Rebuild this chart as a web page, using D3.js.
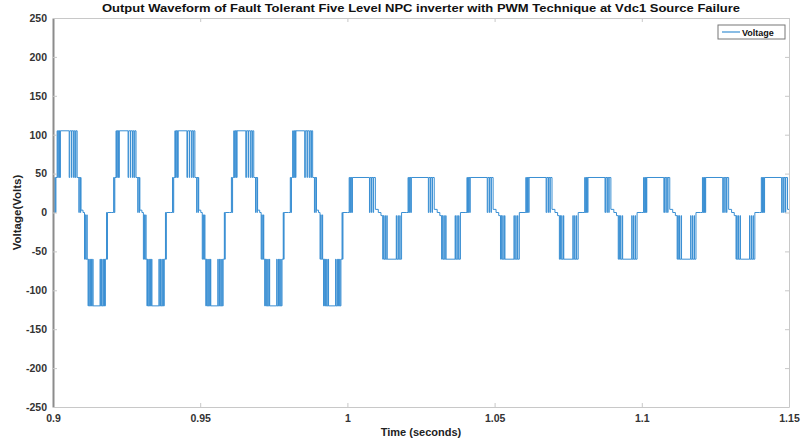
<!DOCTYPE html>
<html>
<head>
<meta charset="utf-8">
<script src="https://cdn.jsdelivr.net/npm/d3@7"></script>
<style>
  body { margin: 0; background: #fff; }
  text { font-family: "Liberation Sans", Arial, sans-serif; }
</style>
</head>
<body>
<div id="chart"></div>
<script>
// Axis setup
const xTicks = [0.9, 0.95, 1, 1.05, 1.1, 1.15];
const yTicks = [-250, -200, -150, -100, -50, 0, 50, 100, 150, 200, 250];

// Start time of each 50 Hz cycle (before / after the Vdc1 failure at t = 1 s)
const preCycles = [0.90, 0.92, 0.94, 0.96, 0.98];
const postCycles = [1.00, 1.02, 1.04, 1.06, 1.08, 1.10, 1.12, 1.14];

// Switching edges inside one cycle: [time from cycle start in ms, voltage after the edge]
const prePattern = [
  [0, 0], [0.6, 45], [0.8, 0], [1.0, 45], [1.4, 105], [1.6, 45], [1.8, 105], [2.1, 45],
  [2.2, 105], [2.4, 45], [2.5, 105], [5.5, 45], [5.7, 105], [6.3, 45], [6.4, 105],
  [7.0, 45], [7.2, 105], [7.6, 45], [7.8, 105], [8.2, 45], [8.8, 0], [8.9, 45],
  [9.3, 0], [9.4, 45], [9.5, 3], [10.2, 0], [10.7, -60], [10.9, -3], [11.1, -60],
  [11.5, -3], [11.6, -60], [11.9, -120], [12.1, -60], [12.3, -120], [12.6, -60],
  [12.7, -120], [13.0, -60], [13.1, -120], [13.5, -60], [13.6, -120], [16.0, -60],
  [16.1, -120], [16.5, -60], [16.6, -120], [17.0, -60], [17.1, -120], [17.4, -60],
  [17.5, -120], [17.8, -60], [18.2, 0], [18.3, -60], [18.5, 0]
];
const postPattern = [
  [0, 0], [0.6, 45], [0.8, 0], [1.0, 45], [1.2, 0], [1.3, 45], [1.6, 0], [1.7, 45],
  [7.5, 0], [7.7, 45], [8.2, 0], [8.3, 45], [8.8, 0], [8.9, 45], [9.5, 4], [10.5, 0],
  [11.4, -4], [12.0, -60], [12.2, -4], [12.4, -60], [12.8, -4], [12.9, -60],
  [13.4, -4], [13.5, -60], [16.6, -4], [16.7, -60], [17.2, -4], [17.3, -60],
  [17.8, -4], [17.9, -60], [18.4, 0]
];

const width = 802, height = 439;
const margin = {top: 18, right: 13, bottom: 32, left: 53};

const svg = d3.select("#chart").append("svg")
    .attr("width", width)
    .attr("height", height);

const x = d3.scaleLinear().domain([0.9, 1.15]).range([margin.left, width - margin.right]);
const y = d3.scaleLinear().domain([-250, 250]).range([height - margin.bottom, margin.top]);

// build the step series from the cycle starts and the switching patterns
let series = [];
preCycles.forEach(t0 => prePattern.forEach(e => series.push({t: t0 + e[0] / 1000, v: e[1]})));
postCycles.forEach(t0 => postPattern.forEach(e => series.push({t: t0 + e[0] / 1000, v: e[1]})));
series.push({t: 1.16, v: 0});

svg.append("clipPath").attr("id", "clip")
  .append("rect")
    .attr("x", x(0.9)).attr("y", y(250))
    .attr("width", x(1.15) - x(0.9)).attr("height", y(-250) - y(250));

svg.append("path")
    .datum(series)
    .attr("clip-path", "url(#clip)")
    .attr("fill", "none")
    .attr("stroke", "#3a8fd3")
    .attr("stroke-width", 1)
    .attr("d", d3.line().x(d => x(d.t)).y(d => y(d.v)).curve(d3.curveStepAfter));

// axes (MATLAB style box with inner ticks), labels with a plain hyphen for minus
const tickFmt = d => String(d);
const axisStyle = g => {
  g.select(".domain").attr("stroke", "#c8c8c8");
  g.selectAll(".tick line").attr("stroke", "#c8c8c8");
  g.selectAll("text").attr("fill", "#333").style("font-size", "10.5px").style("font-weight", "bold");
};

svg.append("g")
    .attr("transform", `translate(0,${y(-250)})`)
    .call(d3.axisBottom(x).tickValues(xTicks).tickSize(-4).tickPadding(8).tickFormat(tickFmt).tickSizeOuter(0))
    .call(axisStyle);
svg.append("g")
    .attr("transform", `translate(0,${y(250)})`)
    .call(d3.axisTop(x).tickValues(xTicks).tickSize(-4).tickFormat("").tickSizeOuter(0))
    .call(axisStyle);
svg.append("g")
    .attr("transform", `translate(${x(0.9)},0)`)
    .call(d3.axisLeft(y).tickValues(yTicks).tickSize(-4).tickPadding(6).tickFormat(tickFmt).tickSizeOuter(0))
    .call(axisStyle)
    .call(g => g.select(".domain").attr("stroke", "#8c8c8c").attr("stroke-width", 2));
svg.append("g")
    .attr("transform", `translate(${x(1.15)},0)`)
    .call(d3.axisRight(y).tickValues(yTicks).tickSize(-4).tickFormat("").tickSizeOuter(0))
    .call(axisStyle);

// title and axis labels
svg.append("text")
    .attr("x", (x(0.9) + x(1.15)) / 2)
    .attr("y", 12)
    .attr("text-anchor", "middle")
    .attr("textLength", 638)
    .attr("lengthAdjust", "spacingAndGlyphs")
    .style("font-size", "11px")
    .style("font-weight", "bold")
    .attr("fill", "#111")
    .text("Output Waveform of Fault Tolerant Five Level NPC inverter with PWM Technique at Vdc1 Source Failure");

svg.append("text")
    .attr("x", (x(0.9) + x(1.15)) / 2)
    .attr("y", 436)
    .attr("text-anchor", "middle")
    .style("font-size", "11px")
    .style("font-weight", "bold")
    .attr("fill", "#222")
    .text("Time (seconds)");

svg.append("text")
    .attr("transform", `translate(21,${y(0)}) rotate(-90)`)
    .attr("text-anchor", "middle")
    .style("font-size", "11.5px")
    .style("font-weight", "bold")
    .attr("fill", "#222")
    .text("Voltage(Volts)");

// legend
const legend = svg.append("g").attr("transform", "translate(718,25)");
legend.append("rect")
    .attr("width", 67).attr("height", 14)
    .attr("fill", "#fff").attr("stroke", "#777").attr("stroke-width", 1);
legend.append("line")
    .attr("x1", 4).attr("x2", 22).attr("y1", 7).attr("y2", 7)
    .attr("stroke", "#3a8fd3").attr("stroke-width", 1.2);
legend.append("text")
    .attr("x", 24).attr("y", 10.5)
    .style("font-size", "9px").style("font-weight", "bold")
    .attr("fill", "#111")
    .text("Voltage");
</script>
</body>
</html>
